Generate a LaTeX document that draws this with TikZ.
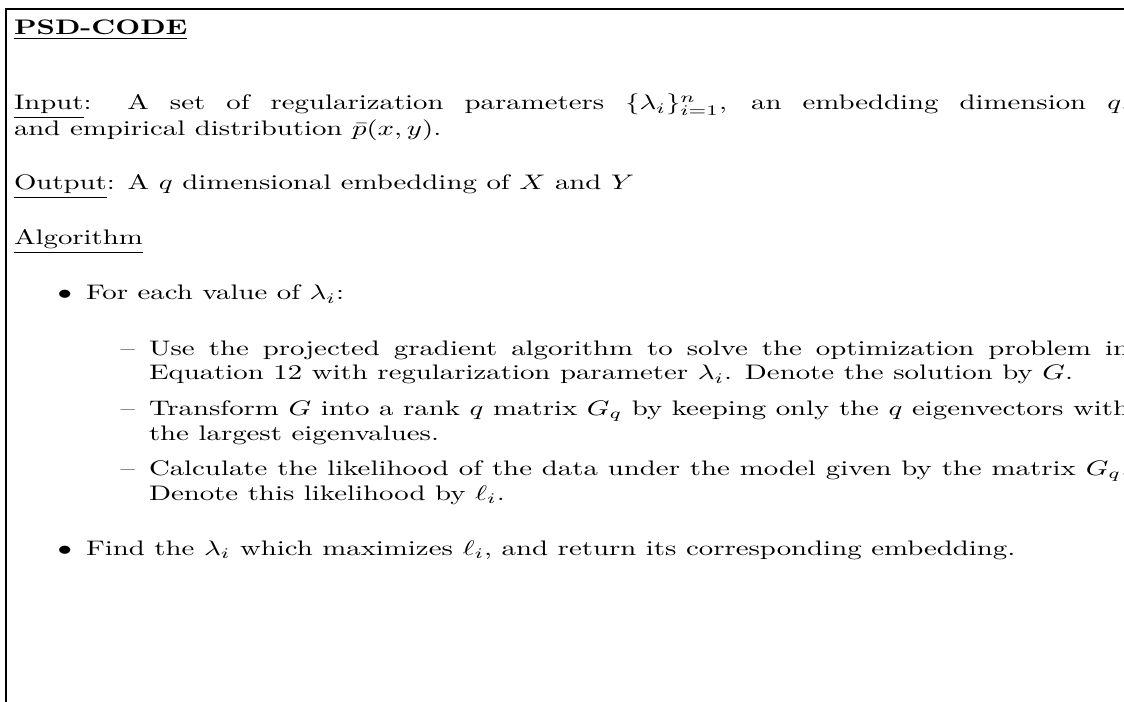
\documentclass[tikz,border=0pt]{standalone}
\usepackage{graphicx}
\tikzset{
  frame/.style={line width=0.7pt},
  txt/.style={anchor=base west, inner sep=0pt, outer sep=0pt},
  lbl/.style={anchor=base east, inner sep=0pt, outer sep=0pt},
}
\newcommand{\jline}[2]{\makebox[#1][s]{#2}}
\newcommand{\sq}[1]{\scalebox{1}[0.73]{#1}}
\begin{document}
\begin{tikzpicture}[x=0.3472pt,y=-0.3472pt]
\clip (0,0) rectangle (1124,702);
\useasboundingbox (0,0) rectangle (1124,702);
\coordinate (fb) at (6,720);
\coordinate (fr) at (1140,9);
\draw[frame] (fb) |- (fr);
\node[txt] (title) at (14,35) {\sq{\underline{\textbf{PSD-CODE}}}};
\node[txt] (in1) at (14,110) {\sq{\jline{387.2pt}{\underline{Input}: A set of regularization parameters $\{\lambda_i\}_{i=1}^n$, an embedding dimension $q$,}}};
\node[txt] (in2) at (14,136) {\sq{and empirical distribution $\bar{p}(x,y)$.}};
\node[txt] (out) at (14,190) {\sq{\underline{Output}: A $q$ dimensional embedding of $X$ and $Y$}};
\node[txt] (alg) at (14,245) {\sq{\underline{Algorithm}}};
\node[lbl] (b1) at (72,300) {\sq{$\bullet$}};
\node[txt] (for) at (86,300) {\sq{For each value of $\lambda_i$:}};
\node[lbl] (d1) at (135,355) {\sq{\textendash}};
\node[txt] (use1) at (149,355) {\sq{\jline{340.3pt}{Use the projected gradient algorithm to solve the optimization problem in}}};
\node[txt] (use2) at (149,380) {\sq{Equation 12 with regularization parameter $\lambda_i$. Denote the solution by $G$.}};
\node[lbl] (d2) at (135,415) {\sq{\textendash}};
\node[txt] (tr1) at (149,415) {\sq{\jline{340.3pt}{Transform $G$ into a rank $q$ matrix $G_q$ by keeping only the $q$ eigenvectors with}}};
\node[txt] (tr2) at (149,440) {\sq{the largest eigenvalues.}};
\node[lbl] (d3) at (135,475) {\sq{\textendash}};
\node[txt] (ca1) at (149,475) {\sq{\jline{340.3pt}{Calculate the likelihood of the data under the model given by the matrix $G_q$.}}};
\node[txt] (ca2) at (149,500) {\sq{Denote this likelihood by $\ell_i$.}};
\node[lbl] (b2) at (72,555) {\sq{$\bullet$}};
\node[txt] (find) at (86,555) {\sq{Find the $\lambda_i$ which maximizes $\ell_i$, and return its corresponding embedding.}};
\end{tikzpicture}
\end{document}
